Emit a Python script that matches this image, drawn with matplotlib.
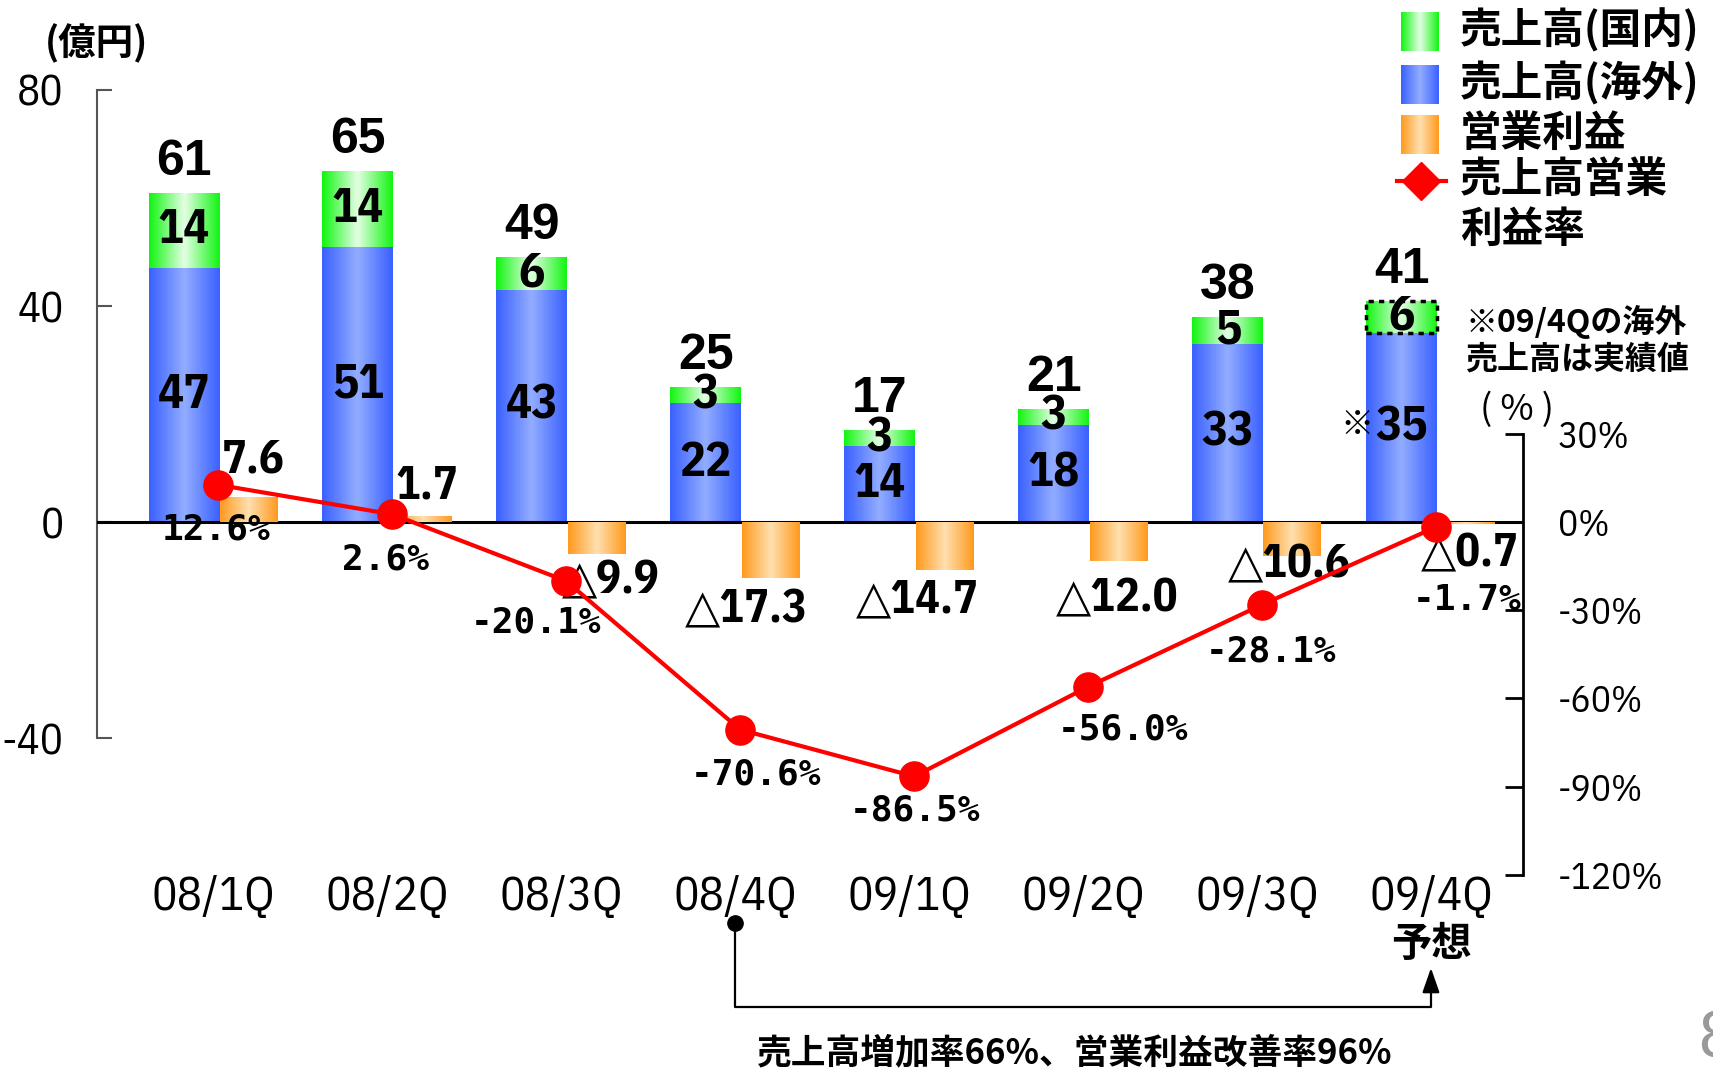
import numpy as np
import matplotlib
matplotlib.use('Agg')
import matplotlib.pyplot as plt
import matplotlib.transforms as mtransforms
from matplotlib import font_manager
from matplotlib.colors import LinearSegmentedColormap

quarters = ['08/1Q', '08/2Q', '08/3Q', '08/4Q', '09/1Q', '09/2Q', '09/3Q', '09/4Q']
sales_domestic = [14, 14, 6, 3, 3, 3, 5, 6]
sales_overseas = [47, 51, 43, 22, 14, 18, 33, 35]
sales_total = [61, 65, 49, 25, 17, 21, 38, 41]
op_profit = [7.6, 1.7, -9.9, -17.3, -14.7, -12.0, -10.6, -0.7]
op_margin = [12.6, 2.6, -20.1, -70.6, -86.5, -56.0, -28.1, -1.7]
left_ticks = [-40, 0, 40, 80]
right_ticks = [-120, -90, -60, -30, 0, 30]

# label nudges in pixels (dx, dy), picked by eye from the original
op_off = [(5, 37), (4, 30), (14, -27), (-24, -32), (-27, -30), (-1, -38), (-3, -8), (3, -30)]
pct_off = [(-2, -45), (-7, -45), (-30, -41), (16, -45), (1, -34), (35, -43), (9, -47), (31, -73)]


def have(name):
    try:
        font_manager.findfont(font_manager.FontProperties(family=name), fallback_to_default=False)
        return True
    except ValueError:
        return False


NARROW = next((f for f in ['IBM Plex Sans Condensed', 'Roboto Condensed', 'Liberation Sans Narrow',
                           'Liberation Sans'] if have(f)), 'DejaVu Sans')
JP = 'Noto Sans CJK JP'


def grad_cmap(edge, mid):
    return LinearSegmentedColormap.from_list('g', [(0, edge), (0.5, mid), (1, edge)])


cm_blue = grad_cmap('#3a60ff', '#92adff')
cm_green = grad_cmap('#10f510', '#e4ffe4')
cm_orange = grad_cmap('#ff991c', '#ffe0b0')
grad = np.linspace(0, 1, 256).reshape(1, -1)


def fill_grad(axis, bars, cmap):
    for b in bars:
        x0, y0 = b.get_xy()
        im = axis.imshow(grad, cmap=cmap, aspect='auto', zorder=2, interpolation='bicubic',
                         extent=[x0, x0 + b.get_width(), y0, y0 + b.get_height()])
        im.set_clip_path(b)


W, H = 1713, 1069
fig = plt.figure(figsize=(W / 100, H / 100), dpi=100)
ax = fig.add_axes([97 / W, 1 - 875 / H, (1523 - 97) / W, (875 - 90) / H])
ax2 = ax.twinx()   # margin %
ax3 = ax.twinx()   # operating profit (drawn at its own scale)
ax.set_zorder(1)
ax3.set_zorder(2)
ax2.set_zorder(3)

x = np.arange(len(quarters))
xb = x - 0.167
xo = x + 0.204

bars_ov = ax.bar(xb, sales_overseas, 0.408, facecolor='none', edgecolor='none', zorder=3)
bars_dm = ax.bar(xb, sales_domestic, 0.408, bottom=sales_overseas, facecolor='none',
                 edgecolor='none', zorder=3)
bars_op = ax3.bar(xo, op_profit, 0.333, facecolor='none', edgecolor='none', zorder=3)
fill_grad(ax, bars_ov, cm_blue)
fill_grad(ax, bars_dm, cm_green)
fill_grad(ax3, bars_op, cm_orange)
bars_dm[-1].set_edgecolor('black')
bars_dm[-1].set_linewidth(2.5)
bars_dm[-1].set_linestyle((0, (1.5, 1.5)))

ax3.axhline(0, color='black', lw=2.2, zorder=1.5)

ax2.plot(x + 0.03, op_margin, color='#ff0000', lw=3, marker='o', ms=21, zorder=5)

# labels
for i in range(len(quarters)):
    ax.annotate(str(sales_total[i]), (xb[i], sales_total[i]), xytext=(0, 18),
                textcoords='offset pixels', ha='center', va='baseline',
                fontsize=36, fontweight='bold', family='Liberation Sans', zorder=6)
    ax.text(xb[i], sales_overseas[i] / 2, str(sales_overseas[i]), ha='center', va='center',
            fontsize=35, fontweight='bold', family=NARROW, zorder=6)
    ax.text(xb[i], sales_overseas[i] + sales_domestic[i] / 2, str(sales_domestic[i]),
            ha='center', va='center', fontsize=35, fontweight='bold', family=NARROW, zorder=6)
    v = op_profit[i]
    lab = '%.1f' % v if v >= 0 else '\u25b3%.1f' % -v
    ax3.annotate(lab, (xo[i], v), xytext=op_off[i], textcoords='offset pixels',
                 ha='center', va='center', fontsize=33, fontweight='bold',
                 family=[NARROW, 'DejaVu Sans'], zorder=6)
    ax3.annotate('%.1f%%' % op_margin[i], (x[i] + 0.03, op_margin[i]), xycoords=ax2.transData,
                 xytext=pct_off[i], textcoords='offset pixels', ha='center', va='center',
                 fontsize=26, fontweight='bold', family='DejaVu Sans Mono', zorder=6)

ax.annotate('\u203b', (xb[-1], sales_overseas[-1] / 2), xytext=(-45, 2), textcoords='offset pixels',
            ha='center', va='center', fontsize=24, family=[JP, 'DejaVu Sans'], zorder=6)

# axes styling
ax.set_xlim(-0.667, 7.529)
ax.set_ylim(-65.37, 80)
ax2.set_ylim(-120, 146.8)
ax3.set_ylim(-108.6, 132.9)
ax3.axis('off')

for s in ['top', 'right', 'bottom']:
    ax.spines[s].set_visible(False)
ax.spines['left'].set_bounds(-40, 80)
ax.spines['left'].set_color('#555555')
ax.spines['left'].set_linewidth(1.5)
ax.set_yticks(left_ticks)
ax.set_yticklabels([str(t) for t in left_ticks], family=NARROW, fontsize=31)
ax.tick_params(axis='y', direction='in', length=11, width=1.5, color='#555555', pad=24)
ax.set_xticks(x)
ax.set_xticklabels(quarters, family=NARROW, fontsize=34)
ax.tick_params(axis='x', length=0, pad=0)

for s in ['top', 'left', 'bottom']:
    ax2.spines[s].set_visible(False)
ax2.spines['right'].set_bounds(-120, 30)
ax2.spines['right'].set_linewidth(2)
ax2.set_yticks(right_ticks)
ax2.set_yticklabels(['%d%%' % t for t in right_ticks], family=NARROW, fontsize=27)
ax2.tick_params(axis='y', direction='in', length=13, width=2, pad=25)

# overlay in image pixels for legend / notes
lax = fig.add_axes([0, 0, 1, 1])
lax.set_zorder(5)
lax.axis('off')

for (top, cm) in [(12, cm_green), (65, cm_blue), (115, cm_orange)]:
    lax.imshow(grad, cmap=cm, aspect='auto', extent=[1401, 1439, top + 39, top],
               interpolation='bicubic')
lax.plot([1397, 1446], [181, 181], color='#ff0000', lw=3)
lax.plot([1421], [181], marker='D', ms=19, color='#ff0000')
leg_txt = [('売上高(国内)', 30), ('売上高(海外)', 83), ('営業利益', 134), ('売上高営業', 180), ('利益率', 230)]
for t, yy in leg_txt:
    lax.text(1460, yy, t, ha='left', va='center', fontsize=30, fontweight='bold', family=JP)

lax.text(97, 43, '(億円)', ha='center', va='center', fontsize=27, fontweight='bold', family=JP)
lax.text(1517, 410, '( % )', ha='center', va='center', fontsize=26, family=JP)
lax.text(1465, 322, '※09/4Qの海外', ha='left', va='center', fontsize=23, fontweight='bold', family=JP)
lax.text(1465, 360, '売上高は実績値', ha='left', va='center', fontsize=23, fontweight='bold', family=JP)

trans = mtransforms.blended_transform_factory(ax.transData, lax.transData)
lax.plot([3, 3, 7, 7], [923, 1007, 1007, 985], transform=trans, color='black', lw=1.6, clip_on=False)
lax.plot([3], [923], marker='o', ms=11, color='black', transform=trans, clip_on=False)
lax.annotate('', xy=(7, 968), xytext=(7, 990), xycoords=trans, textcoords=trans,
             arrowprops=dict(arrowstyle='-|>,head_length=1.0,head_width=0.35', mutation_scale=15,
                             color='black', lw=1.6, shrinkA=0, shrinkB=0))
lax.text(7, 944, '予想', transform=trans, ha='center', va='center', fontsize=29,
         fontweight='bold', family=JP)
lax.text(1075, 1053, '売上高増加率66%、営業利益改善率96%', ha='center', va='center',
         fontsize=25, fontweight='bold', family=JP)
lax.text(1698, 1040, '8', ha='left', va='center', fontsize=48, color='#999999', family='Liberation Sans')

lax.set_xlim(0, W)
lax.set_ylim(H, 0)

fig.savefig('out.png', dpi=100)
